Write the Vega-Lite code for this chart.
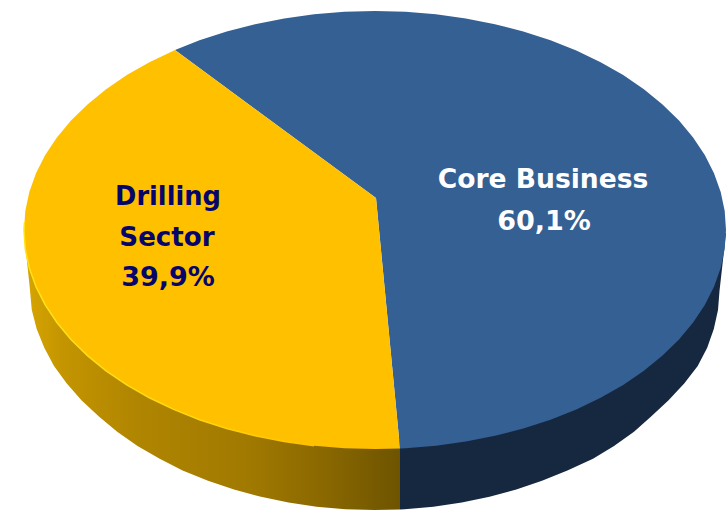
{
  "$schema": "https://vega.github.io/schema/vega-lite/v6.json",
  "width": 728,
  "height": 511,
  "padding": 0,
  "autosize": {"type": "none"},
  "background": "#ffffff",
  "view": {"stroke": null},
  "projection": {"type": "identity", "scale": 1, "translate": [0, 0]},
  "layer": [
    {
      "data": {"values": [
        {"type": "Feature", "properties": {"segment": "Drilling Sector", "part": "wall"}, "geometry": {"type": "Polygon", "coordinates": [[
          [24,233],[29.5,285],[31.8,310],[36.7,329],[44.3,347.7],[54,365.9],[66.8,383.5],[81.7,400.5],[98.9,416.6],[117.2,431.8],[137.5,445.9],[159.7,458.8],[182.6,470.4],[208,480.7],[234,489.5],[261,496.8],[288.5,502.5],[316.6,506.7],[345.4,509.2],[374.5,510],[400,509.4],[400,440],[200,300],[24,233]
        ]]}}
      ]},
      "mark": {"type": "geoshape", "stroke": null, "fill": {
        "gradient": "linear", "x1": 0, "y1": 0, "x2": 1, "y2": 0,
        "stops": [
          {"offset": 0, "color": "#d8a600"},
          {"offset": 0.1, "color": "#c49500"},
          {"offset": 0.3, "color": "#b08500"},
          {"offset": 0.6, "color": "#a07900"},
          {"offset": 0.8, "color": "#8a6800"},
          {"offset": 1, "color": "#6e5400"}
        ]
      }}
    },
    {
      "data": {"values": [
        {"type": "Feature", "properties": {"segment": "Core Business", "part": "wall"}, "geometry": {"type": "Polygon", "coordinates": [[
          [400,509.4],[404.6,509.2],[433.4,506.7],[461.8,502.5],[489.5,496.8],[516.3,489.5],[542,480.7],[567.4,470.4],[593,458.8],[614,445.9],[634,431.8],[651.1,416.6],[668.3,400.5],[684.2,383.5],[697.7,365.9],[707.2,347.7],[713.8,329],[718,310.1],[719.5,291],[726,233],[400,300],[400,509.4]
        ]]}}
      ]},
      "mark": {"type": "geoshape", "stroke": null, "fill": "#16283f"}
    },
    {
      "data": {"values": [
        {"type": "Feature", "properties": {"segment": "Core Business", "share": 60.1}, "geometry": {"type": "Polygon", "coordinates": [[
          [376,198],[175,50],[199.5,40.3],[226.7,31.5],[255,24.2],[284.2,18.5],[314.1,14.3],[344.4,11.8],[375,11],[405.6,11.8],[435.9,14.3],[465.8,18.5],[495,24.2],[523.3,31.5],[550.5,40.3],[576.3,50.6],[600.6,62.2],[623.2,75.1],[643.9,89.2],[662.5,104.4],[679,120.5],[693.1,137.5],[704.8,155.1],[714,173.3],[720.7,192],[724.7,210.9],[726,230],[724.7,249.1],[720.7,268],[714,286.7],[704.8,304.9],[693.1,322.5],[679,339.5],[662.5,355.6],[643.9,370.8],[623.2,384.9],[600.6,397.8],[576.3,409.4],[550.5,419.7],[523.3,428.5],[495,435.8],[465.8,441.5],[435.9,445.7],[405.6,448.2],[400,448.4],[376,198]
        ]]}},
        {"type": "Feature", "properties": {"segment": "Drilling Sector", "share": 39.9}, "geometry": {"type": "Polygon", "coordinates": [[
          [376,198],[400,448.4],[375,449],[344.4,448.2],[314.1,445.7],[284.2,441.5],[255,435.8],[226.7,428.5],[199.5,419.7],[173.7,409.4],[149.4,397.8],[126.8,384.9],[106.1,370.8],[87.5,355.6],[71,339.5],[56.9,322.5],[45.2,304.9],[36,286.7],[29.3,268],[25.3,249.1],[24,230],[25.3,210.9],[29.3,192],[36,173.3],[45.2,155.1],[56.9,137.5],[71,120.5],[87.5,104.4],[106.1,89.2],[126.8,75.1],[149.4,62.2],[175,50],[376,198]
        ]]}}
      ]},
      "mark": {"type": "geoshape", "stroke": null},
      "encoding": {
        "color": {
          "field": "properties.segment",
          "type": "nominal",
          "scale": {"domain": ["Core Business", "Drilling Sector"], "range": ["#356094", "#ffc000"]},
          "legend": null
        }
      }
    },
    {
      "data": {"values": [
        {"type": "Feature", "properties": {"segment": "Drilling Sector", "part": "rim"}, "geometry": {"type": "LineString", "coordinates": [
          [24.5,222],[24,230],[25.3,249.1],[29.3,268],[36,286.7],[45.2,304.9],[56.9,322.5],[71,339.5],[87.5,355.6],[106.1,370.8],[126.8,384.9],[149.4,397.8],[173.7,409.4],[199.5,419.7],[226.7,428.5],[255,435.8],[284.2,441.5],[314.1,445.7]
        ]}}
      ]},
      "mark": {"type": "geoshape", "filled": false, "strokeWidth": 1.5, "stroke": {
        "gradient": "linear", "x1": 0, "y1": 0, "x2": 1, "y2": 0,
        "stops": [
          {"offset": 0, "color": "#ffe21a"},
          {"offset": 0.6, "color": "#ffd80c"},
          {"offset": 1, "color": "#ffc000"}
        ]
      }}
    },
    {
      "data": {"values": [
        {"line": "Drilling", "kind": "Drilling", "segment": "Drilling Sector", "lon": 168, "lat": 205},
        {"line": "Sector", "kind": "Sector", "segment": "Drilling Sector", "lon": 167, "lat": 246},
        {"line": "39,9%", "kind": "share", "segment": "Drilling Sector", "lon": 168, "lat": 286},
        {"line": "Core Business", "kind": "Core Business", "segment": "Core Business", "lon": 543, "lat": 188},
        {"line": "60,1%", "kind": "share", "segment": "Core Business", "lon": 544, "lat": 230}
      ]},
      "mark": {"type": "text", "font": "DejaVu Sans", "fontWeight": "bold", "align": "center", "baseline": "alphabetic"},
      "encoding": {
        "longitude": {"field": "lon", "type": "quantitative"},
        "latitude": {"field": "lat", "type": "quantitative"},
        "text": {"field": "line", "type": "nominal"},
        "size": {
          "field": "kind",
          "type": "nominal",
          "scale": {"domain": ["Drilling", "Sector", "Core Business", "share"], "range": [25.7, 27, 26.5, 28.5]},
          "legend": null
        },
        "color": {
          "field": "segment",
          "type": "nominal",
          "scale": {"domain": ["Core Business", "Drilling Sector"], "range": ["#ffffff", "#05056b"]},
          "legend": null
        }
      }
    }
  ],
  "resolve": {"scale": {"color": "independent"}}
}
